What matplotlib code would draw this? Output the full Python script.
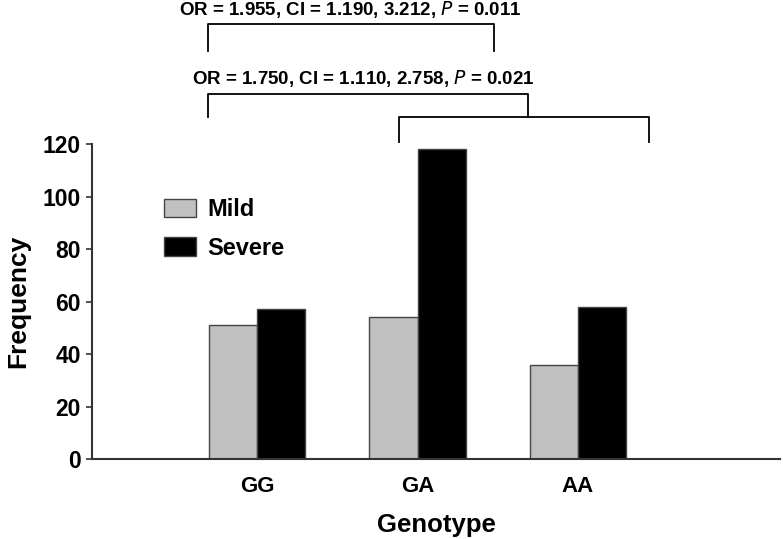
import matplotlib
matplotlib.use("Agg")
import matplotlib.pyplot as plt
import numpy as np

plt.rcParams['font.family'] = ['Liberation Sans', 'DejaVu Sans']

categories = ["GG", "GA", "AA"]
mild = [51, 54, 36]
severe = [57, 118, 58]
yticks = [0, 20, 40, 60, 80, 100, 120]
ann_top = r"OR = 1.955, CI = 1.190, 3.212, $\bf{\it{P}}$ = 0.011"
ann_bot = r"OR = 1.750, CI = 1.110, 2.758, $\bf{\it{P}}$ = 0.021"

fig = plt.figure(figsize=(7.83, 5.39), dpi=100)
ax = fig.add_axes([0.1175, 0.1484, 0.9962 - 0.1175, 0.7328 - 0.1484])

x = np.arange(len(categories))
w = 0.3
ax.bar(x - w/2, mild, w, color="#c0c0c0", edgecolor="#444444", linewidth=1.0, label="Mild")
ax.bar(x + w/2, severe, w, color="black", edgecolor="#444444", linewidth=1.0, label="Severe")

ax.set_xlim(-1.03, 3.26)
ax.set_ylim(0, 120)
ax.set_yticks(yticks)
ax.set_yticklabels([str(t) for t in yticks], fontsize=16.5, fontweight="bold")
ax.set_xticks(x)
ax.set_xticklabels(categories, fontsize=16, fontweight="bold")
ax.tick_params(axis="x", length=0, pad=12)
ax.tick_params(axis="y", length=4, width=1.2, color="#333333", pad=4)
for s in ["top", "right"]:
    ax.spines[s].set_visible(False)
for s in ["left", "bottom"]:
    ax.spines[s].set_color("#333333")
    ax.spines[s].set_linewidth(1.5)

ax.set_ylabel("Frequency", fontsize=19, fontweight="bold", labelpad=9)
ax.set_xlabel("Genotype", fontsize=18.5, fontweight="bold", labelpad=12)

ax.legend(loc="upper left", bbox_to_anchor=(0.105, 0.829), frameon=False,
          prop={"size": 17, "weight": "bold"}, handlelength=1.36, handleheight=0.8,
          labelspacing=0.67, handletextpad=0.47, borderpad=0, borderaxespad=0)

# significance brackets
kw = dict(color="black", linewidth=1.3, clip_on=False)
ax.plot([-0.305, -0.305, 1.478, 1.478], [155.4, 165.7, 165.7, 155.4], **kw)
ax.plot([-0.305, -0.305, 1.686, 1.686], [130.3, 139, 139, 130.3], **kw)
ax.plot([0.885, 0.885, 2.44, 2.44], [120.8, 130.3, 130.3, 120.8], **kw)
ax.text(0.583, 171.3, ann_top, ha="center", va="center", fontsize=13.5, fontweight="bold", clip_on=False)
ax.text(0.659, 145.0, ann_bot, ha="center", va="center", fontsize=13.5, fontweight="bold", clip_on=False)

fig.savefig("out.png", dpi=100)
